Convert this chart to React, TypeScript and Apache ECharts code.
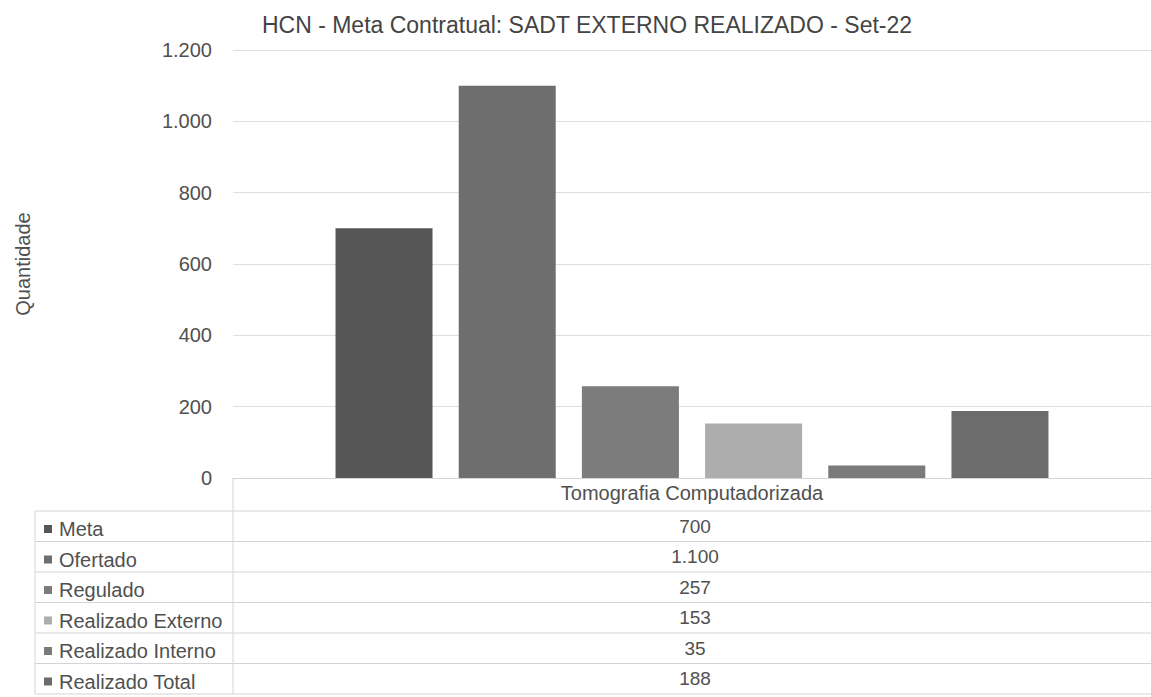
import React, { useEffect, useRef } from "react";
import * as echarts from "echarts";

const title = "HCN - Meta Contratual: SADT EXTERNO REALIZADO - Set-22";
const categories = ["Tomografia Computadorizada"];
const seriesNames = ["Meta", "Ofertado", "Regulado", "Realizado Externo", "Realizado Interno", "Realizado Total"];
const seriesValues = [700, 1100, 257, 153, 35, 188];
const seriesColors = ["#565656", "#6e6e6e", "#7c7c7c", "#adadad", "#7a7a7a", "#6c6c6c"];
const yTicks = [0, 200, 400, 600, 800, 1000, 1200];
const yAxisName = "Quantidade";

const fmt = (v: number) => String(v).replace(/\B(?=(\d{3})+(?!\d))/g, ".");

const FONT = "'Liberation Sans', Arial, sans-serif";
const TXT = "#505050";
const LINE = "#d4d4d4";

export default function App() {
  const ref = useRef<HTMLDivElement>(null);
  useEffect(() => {
    if (!ref.current) return;
    const chart = echarts.init(ref.current, null, { renderer: "svg" });

    const gridLeft = 233;
    const gridWidth = 924;
    const gridTop = 50;
    const gridBottomY = 478;
    const rowTop = 511;
    const rowH = 30.5;
    const tableLeft = 35;
    const tableRight = 1151;
    const valueX = gridLeft + gridWidth / 2;

    const graphics: any[] = [];
    for (let i = 0; i <= seriesNames.length; i++) {
      const y = rowTop + i * rowH;
      graphics.push({
        type: "line",
        shape: { x1: tableLeft, y1: y, x2: tableRight, y2: y },
        style: { stroke: LINE, lineWidth: 1 },
        silent: true,
      });
    }
    graphics.push({
      type: "line",
      shape: { x1: gridLeft, y1: gridBottomY, x2: gridLeft, y2: rowTop + seriesNames.length * rowH },
      style: { stroke: LINE, lineWidth: 1 },
      silent: true,
    });
    graphics.push({
      type: "line",
      shape: { x1: tableLeft, y1: rowTop, x2: tableLeft, y2: rowTop + seriesNames.length * rowH },
      style: { stroke: LINE, lineWidth: 1 },
      silent: true,
    });
    seriesValues.forEach((v, i) => {
      graphics.push({
        type: "text",
        x: valueX,
        y: rowTop + i * rowH + rowH / 2,
        style: {
          text: fmt(v),
          fill: TXT,
          font: `19px ${FONT}`,
          align: "center",
          verticalAlign: "middle",
        },
        silent: true,
      });
    });

    const option: any = {
      animation: false,
      backgroundColor: "#ffffff",
      title: {
        text: title,
        left: 582,
        top: 8,
        textAlign: "center",
        textStyle: { fontFamily: FONT, fontSize: 23, fontWeight: "normal", color: "#444" },
      },
      legend: {
        orient: "vertical",
        left: 44,
        top: rowTop + 8,
        padding: 0,
        height: 178,
        icon: "rect",
        itemWidth: 8,
        itemHeight: 8,
        itemGap: 10.5,
        selectedMode: false,
        textStyle: { fontFamily: FONT, fontSize: 20, lineHeight: 20, color: TXT, padding: [0, 0, 0, 2] },
        data: seriesNames,
      },
      grid: {
        left: gridLeft,
        width: gridWidth,
        top: gridTop,
        height: gridBottomY - gridTop,
        containLabel: false,
      },
      xAxis: {
        type: "category",
        data: categories,
        axisLine: { show: true, lineStyle: { color: LINE } },
        axisTick: { show: false },
        axisLabel: { margin: 5, fontFamily: FONT, fontSize: 20, color: TXT },
      },
      yAxis: {
        type: "value",
        min: yTicks[0],
        max: yTicks[yTicks.length - 1],
        interval: yTicks[1] - yTicks[0],
        name: yAxisName,
        nameLocation: "middle",
        nameGap: 200,
        nameTextStyle: { fontFamily: FONT, fontSize: 20, color: TXT },
        axisLine: { show: false },
        axisTick: { show: false },
        axisLabel: {
          margin: 21,
          fontFamily: FONT,
          fontSize: 20,
          color: TXT,
          formatter: (v: number) => fmt(v),
        },
        splitLine: { show: true, lineStyle: { color: "#dedede", width: 1 } },
      },
      series: seriesNames.map((name, i) => ({
        name,
        type: "bar",
        data: [seriesValues[i]],
        barWidth: 97,
        barGap: "27%",
        itemStyle: { color: seriesColors[i] },
      })),
      graphic: graphics,
    };
    chart.setOption(option);
    return () => chart.dispose();
  }, []);
  return (
    <div
      ref={ref}
      style={{ position: "fixed", left: 0, top: 0, width: 1151, height: 697, background: "#fff" }}
    />
  );
}
